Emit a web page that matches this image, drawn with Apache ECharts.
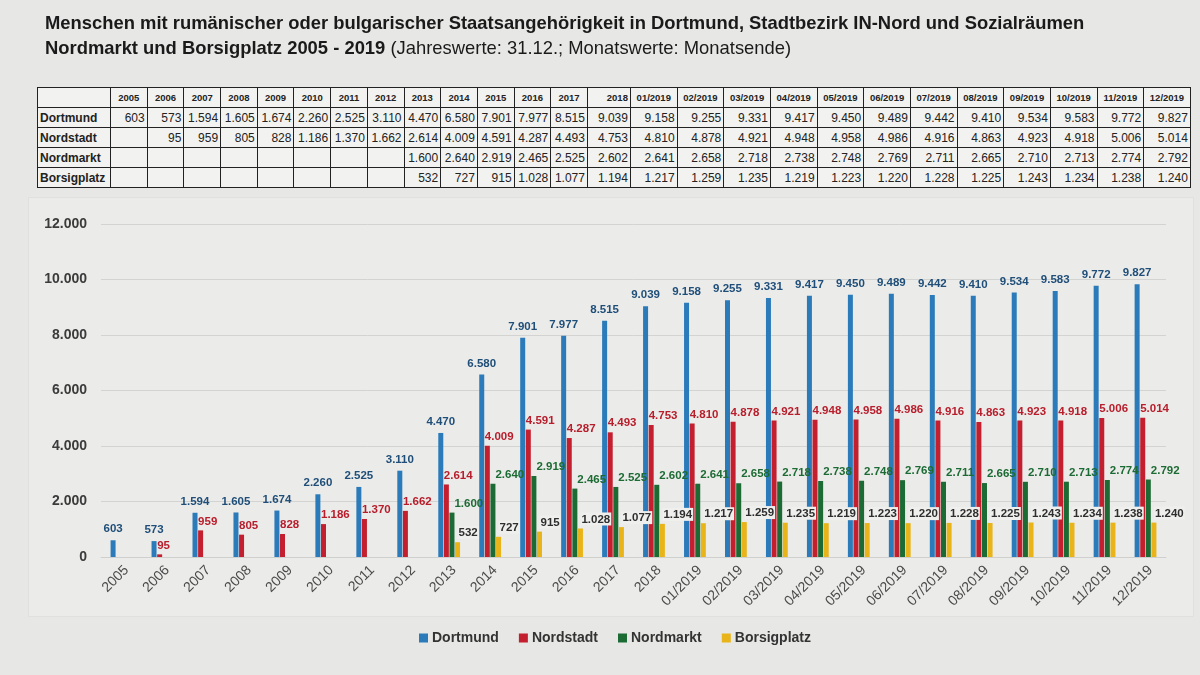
<!DOCTYPE html>
<html>
<head>
<meta charset="utf-8">
<script src="https://cdn.jsdelivr.net/npm/echarts@6/dist/echarts.min.js"></script>
<style>
  html, body { margin:0; padding:0; background:#e7e7e5; }
  #wrap { position:relative; width:1200px; height:675px; overflow:hidden; }
  #chart { position:absolute; left:0; top:0; width:1200px; height:675px; }
  #frame { position:absolute; left:28px; top:197px; width:1164px; height:418px; border:1px solid #e0e0de; background:#ebebe9; }
  #tbl { position:absolute; left:37px; top:87px; border-collapse:collapse; table-layout:fixed; font-family:'Liberation Sans', Arial, sans-serif; background:#f2f2f0; }
  #tbl td { border:1px solid #222; height:19px; padding:0 2px 0 2px; font-size:12px; color:#222; text-align:right; white-space:nowrap; overflow:hidden; }
  #tbl tr:first-child td { font-size:9.5px; font-weight:bold; text-align:center; }
  #tbl td.rl { text-align:left; font-weight:bold; font-size:12px; }
</style>
</head>
<body>
<div id="wrap">
  <div id="frame"></div>
  <div id="chart"></div>
  <table id="tbl"></table>
</div>
<script>
// ---------- DATA ----------
const categories = ['2005','2006','2007','2008','2009','2010','2011','2012','2013','2014','2015','2016','2017','2018',
  '01/2019','02/2019','03/2019','04/2019','05/2019','06/2019','07/2019','08/2019','09/2019','10/2019','11/2019','12/2019'];
const seriesNames = ['Dortmund','Nordstadt','Nordmarkt','Borsigplatz'];
const dortmund = [603,573,1594,1605,1674,2260,2525,3110,4470,6580,7901,7977,8515,9039,
  9158,9255,9331,9417,9450,9489,9442,9410,9534,9583,9772,9827];
const nordstadt = [null,95,959,805,828,1186,1370,1662,2614,4009,4591,4287,4493,4753,
  4810,4878,4921,4948,4958,4986,4916,4863,4923,4918,5006,5014];
const nordmarkt = [null,null,null,null,null,null,null,null,1600,2640,2919,2465,2525,2602,
  2641,2658,2718,2738,2748,2769,2711,2665,2710,2713,2774,2792];
const borsigplatz = [null,null,null,null,null,null,null,null,532,727,915,1028,1077,1194,
  1217,1259,1235,1219,1223,1220,1228,1225,1243,1234,1238,1240];
const yTicks = [0,2000,4000,6000,8000,10000,12000];
const titleLine1 = 'Menschen mit rumänischer oder bulgarischer Staatsangehörigkeit in Dortmund, Stadtbezirk IN-Nord und Sozialräumen';
const titleLine2Bold = 'Nordmarkt und Borsigplatz 2005 - 2019';
const titleLine2Normal = ' (Jahreswerte: 31.12.; Monatswerte: Monatsende)';

// ---------- helpers ----------
function fmt(v){ if (v===null||v===undefined) return ''; return String(v).replace(/\B(?=(\d{3})+(?!\d))/g,'.'); }
function hasFont(name){
  const c=document.createElement('canvas').getContext('2d');
  c.font='bold 40px monospace'; const w1=c.measureText('Nordmarkt 1.234 Wg').width;
  c.font="bold 40px '"+name+"', monospace"; const w2=c.measureText('Nordmarkt 1.234 Wg').width;
  return Math.abs(w1-w2)>0.5;
}
const narrow = hasFont('Liberation Sans Narrow');
const NF = narrow ? "'Liberation Sans Narrow', 'Liberation Sans', Arial, sans-serif" : "'Liberation Sans', Arial, sans-serif";
const RF = "'Liberation Sans', Arial, sans-serif";
const titleSize = narrow ? 20 : 18.4;
const lblSize = narrow ? 13.5 : 11.5;

// ---------- table ----------
(function(){
  const tbl = document.getElementById('tbl');
  const widths = [73]; for (let i=0;i<13;i++) widths.push(36.7); widths.push(43); for (let i=0;i<12;i++) widths.push(46.67);
  let html = '<colgroup>' + widths.map(w=>'<col style="width:'+w+'px">').join('') + '</colgroup>';
  html += '<tr><td></td>' + categories.map((c,i)=>'<td'+(i===13?' style="text-align:right"':'')+'>'+c+'</td>').join('') + '</tr>';
  const rows = [dortmund,nordstadt,nordmarkt,borsigplatz];
  rows.forEach((r,ri)=>{
    html += '<tr><td class="rl">'+seriesNames[ri]+'</td>' + r.map(v=>'<td>'+fmt(v)+'</td>').join('') + '</tr>';
  });
  tbl.innerHTML = html;
  tbl.style.width = widths.reduce((a,b)=>a+b,0)+'px';
})();

// ---------- chart ----------
const chart = echarts.init(document.getElementById('chart'), null, {renderer:'canvas'});
const colors = ['#2b7bba','#c41f2e','#1d6b34','#e8b419'];
const labelColors = ['#1f4e79','#b81d2b','#1d6b34','#2e2e2e'];

function sideLabel(i, posX, bg){
  const o = {
    show:true, position:[posX,0], align:'left', verticalAlign:'bottom', offset:[0,-3],
    formatter: p=>fmt(p.value), color:labelColors[i], fontFamily:NF, fontWeight:'bold', fontSize:lblSize
  };
  if (bg) { o.backgroundColor = '#efefed'; o.padding = [1,1,0,1]; }
  return o;
}

const option = {
  backgroundColor:'transparent',
  animation:false,
  title:{
    left:40, top:6,
    text:'{b|'+titleLine1+'}\n{b|'+titleLine2Bold+'}{n|'+titleLine2Normal+'}',
    textStyle:{ rich:{
      b:{ fontFamily:NF, fontWeight:'bold', fontSize:titleSize, color:'#1a1a1a', lineHeight:25 },
      n:{ fontFamily:NF, fontWeight:'normal', fontSize:titleSize, color:'#1a1a1a', lineHeight:25 }
    }}
  },
  legend:{
    left:419, top:631, itemWidth:9, itemHeight:9, itemGap:20, icon:'rect', padding:0,
    data:seriesNames,
    textStyle:{ fontFamily:RF, fontWeight:'bold', fontSize:14, color:'#333', padding:[0,0,0,-1] }
  },
  grid:{ left:101, right:34, top:224, bottom:118 },
  xAxis:{
    type:'category', data:categories,
    axisLine:{ show:true, lineStyle:{ color:'#cfcfcd' } },
    axisTick:{ show:false },
    axisLabel:{ rotate:45, margin:6, verticalAlign:'top', fontFamily:RF, fontSize:14, color:'#4a4a4a', interval:0 }
  },
  yAxis:{
    type:'value', min:yTicks[0], max:yTicks[yTicks.length-1], interval:yTicks[1]-yTicks[0],
    axisLine:{ show:false }, axisTick:{ show:false },
    splitLine:{ lineStyle:{ color:'#d3d3d1', width:1 } },
    axisLabel:{ formatter:v=>fmt(v), fontFamily:RF, fontWeight:'bold', fontSize:14, color:'#3b3b3b', margin:14 }
  },
  series:[
    { name:seriesNames[0], type:'bar', data:dortmund, barWidth:5, barGap:'12%', itemStyle:{color:colors[0]},
      label:{ show:true, position:'top', distance:5, formatter:p=>fmt(p.value), color:labelColors[0], fontFamily:NF, fontWeight:'bold', fontSize:lblSize } },
    { name:seriesNames[1], type:'bar', data:nordstadt, barWidth:5, barGap:'12%', itemStyle:{color:colors[1]},
      label:sideLabel(1, 0, false) },
    { name:seriesNames[2], type:'bar', data:nordmarkt, barWidth:5, barGap:'12%', itemStyle:{color:colors[2]},
      label:sideLabel(2, '100%', false) },
    { name:seriesNames[3], type:'bar', data:borsigplatz, barWidth:5, barGap:'12%', itemStyle:{color:colors[3]},
      label:sideLabel(3, '50%', true) }
  ]
};
chart.setOption(option);
</script>
</body>
</html>
